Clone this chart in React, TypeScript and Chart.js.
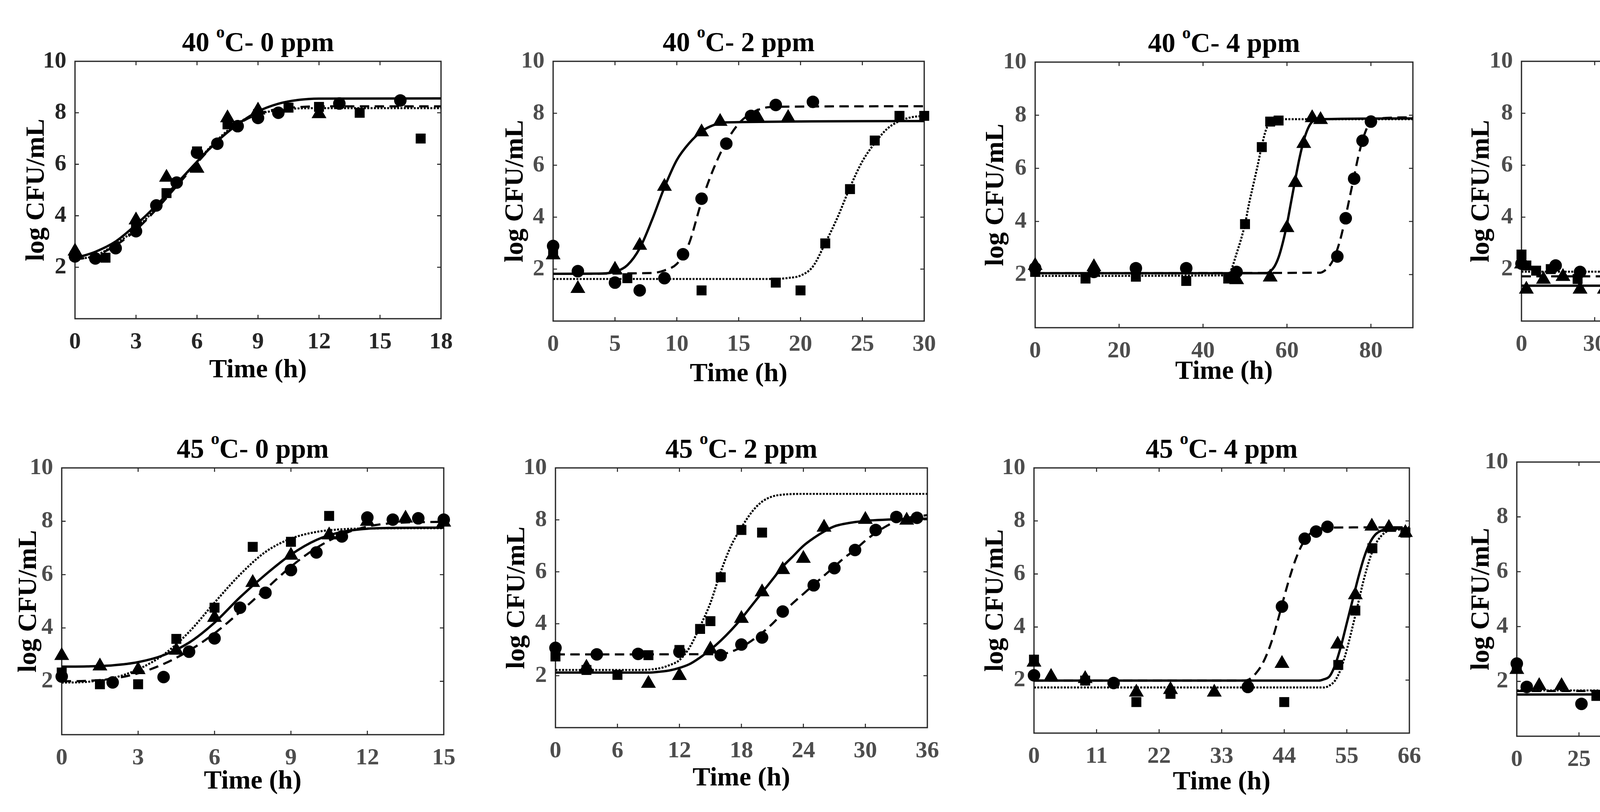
import { useEffect, useRef } from 'react';
import { Chart, registerables } from 'chart.js';

Chart.register(...registerables);

type Pt = [number, number];

const FONT = "'Liberation Serif', 'Times New Roman', Times, serif";

// ---- panel titles / axes ----
const temps = ['40', '40', '40', '40', '45', '45', '45', '45'];
const doses = ['0', '2', '4', '6.25', '0', '2', '4', '6.25'];
const xMaxes = [18, 30, 90, 150, 15, 36, 66, 150];
const xSteps = [3, 5, 20, 30, 3, 6, 11, 25];

// ---- 40 °C - 0 ppm ----
const p1Squares: Pt[] = [[0, 2.45], [1.5, 2.37], [3, 3.6], [4.5, 4.88], [6, 6.5], [7.5, 7.55], [9, 7.95], [10.5, 8.2], [12, 8.23], [14, 8.0], [17, 7.0]];
const p1Circles: Pt[] = [[0, 2.42], [1, 2.34], [2, 2.74], [3, 3.4], [4, 4.4], [5, 5.29], [6, 6.45], [7, 6.8], [8, 7.48], [9, 7.8], [10, 8.0], [13, 8.36], [16, 8.48]];
const p1Triangles: Pt[] = [[0, 2.62], [3, 3.83], [4.5, 5.49], [6, 5.84], [7.5, 7.8], [9, 8.1], [12, 7.96]];
const p1FitSq: Pt[] = [[0, 2.3], [1, 2.45], [2, 2.9], [3, 3.5], [4, 4.3], [5, 5.2], [6, 6.1], [7, 6.95], [8, 7.6], [9, 7.95], [10, 8.1], [11, 8.17], [12, 8.18], [18, 8.18]];
const p1FitCi: Pt[] = [[0, 2.3], [1, 2.45], [2, 2.85], [3, 3.45], [4, 4.25], [5, 5.15], [6, 6.05], [7, 6.9], [8, 7.55], [9, 7.95], [10, 8.15], [11, 8.22], [12, 8.25], [18, 8.25]];
const p1FitTr: Pt[] = [[0, 2.35], [1, 2.6], [2, 3.0], [3, 3.65], [4, 4.4], [5, 5.25], [6, 6.1], [7, 6.9], [8, 7.55], [9, 8.05], [10, 8.35], [11, 8.5], [12, 8.55], [18, 8.56]];

// ---- 40 °C - 2 ppm ----
const p2Squares: Pt[] = [[0, 2.7], [6, 1.65], [12, 1.18], [18, 1.48], [20, 1.18], [22, 2.99], [24, 5.08], [26, 6.95], [28, 7.9], [30, 7.9]];
const p2Circles: Pt[] = [[0, 2.89], [2, 1.92], [5, 1.48], [7, 1.18], [9, 1.65], [10.5, 2.57], [12, 4.71], [14, 6.83], [16, 7.9], [18, 8.32], [21, 8.44]];
const p2Triangles: Pt[] = [[0, 2.54], [2, 1.25], [5, 1.99], [7, 2.91], [9, 5.18], [12, 7.28], [13.5, 7.68], [16.5, 7.86], [19, 7.83]];
const p2FitSq: Pt[] = [[0, 1.62], [18, 1.62], [19, 1.66], [20, 1.75], [21, 2.1], [22, 3.0], [23, 4.0], [24, 5.15], [25, 6.15], [26, 6.85], [27, 7.4], [28, 7.7], [29, 7.85], [30, 7.9]];
const p2FitCi: Pt[] = [[0, 1.82], [8, 1.85], [9, 1.95], [10, 2.2], [10.5, 2.55], [11, 3.0], [12, 4.6], [13, 5.9], [14, 6.9], [15, 7.6], [16, 8.0], [17, 8.2], [18, 8.25], [30, 8.27]];
const p2FitTr: Pt[] = [[0, 1.82], [4, 1.83], [5, 1.9], [6, 2.15], [7, 2.8], [8, 3.9], [9, 5.15], [10, 6.2], [11, 6.85], [12, 7.3], [13, 7.55], [14, 7.65], [30, 7.7]];

// ---- 40 °C - 4 ppm ----
const p3Squares: Pt[] = [[0, 2.1], [12, 1.85], [24, 1.92], [36, 1.76], [46, 1.85], [50, 3.9], [54, 6.8], [56, 7.76], [58, 7.8]];
const p3Circles: Pt[] = [[0, 2.24], [14, 2.1], [24, 2.24], [36, 2.24], [48, 2.1], [72, 2.68], [74, 4.12], [76, 5.61], [78, 7.04], [80, 7.76]];
const p3Triangles: Pt[] = [[0, 2.34], [14, 2.29], [48, 1.8], [56, 1.9], [60, 3.76], [62, 5.46], [64, 6.93], [66, 7.9], [68, 7.83]];
const p3FitSq: Pt[] = [[0, 1.95], [46, 1.97], [47, 2.3], [48, 2.8], [49, 3.3], [50, 3.9], [51, 4.7], [52, 5.4], [53, 6.1], [54, 6.85], [55, 7.45], [56, 7.75], [58, 7.85], [90, 7.85]];
const p3FitCi: Pt[] = [[0, 2.05], [68, 2.07], [69, 2.15], [70, 2.3], [71, 2.55], [72, 2.95], [73, 3.5], [74, 4.2], [75, 4.95], [76, 5.7], [77, 6.45], [78, 7.05], [79, 7.5], [80, 7.75], [82, 7.88], [90, 7.92]];
const p3FitTr: Pt[] = [[0, 2.05], [55, 2.05], [56, 2.12], [57, 2.3], [58, 2.65], [59, 3.2], [60, 3.9], [61, 4.75], [62, 5.6], [63, 6.4], [64, 7.05], [65, 7.5], [66, 7.75], [68, 7.85], [90, 7.88]];

// ---- 40 °C - 6.25 ppm ----
const p4Squares: Pt[] = [[0, 2.56], [2, 2.14], [6, 1.94], [12, 2.0], [23, 1.62], [58, 1.89], [82, 1.52], [88, 4.69], [96, 7.98], [105, 7.23]];
const p4Circles: Pt[] = [[0, 2.21], [14, 2.14], [24, 1.89], [36, 1.65], [48, 1.15], [72, 1.15], [84, 2.61], [88, 5.9], [90, 7.23], [92, 7.83], [95, 7.96]];
const p4Triangles: Pt[] = [[0, 2.19], [2, 1.22], [9, 1.6], [17, 1.71], [24, 1.22], [34, 1.22], [51, 1.22], [69, 1.22], [100, 1.22], [125, 1.22], [128, 3.39], [130, 5.26], [132, 6.46], [135, 8.03]];
const p4FitSq: Pt[] = [[0, 1.9], [80, 1.9], [82, 2.05], [83, 2.25], [84, 2.55], [85, 3.1], [86, 3.7], [87, 4.5], [88, 5.5], [89, 6.4], [90, 7.1], [91, 7.5], [92, 7.75], [93, 7.9], [95, 7.98], [150, 8.0]];
const p4FitCi: Pt[] = [[0, 1.72], [78, 1.72], [80, 1.8], [82, 2.05], [83, 2.3], [84, 2.7], [85, 3.3], [86, 4.1], [87, 5.0], [88, 5.9], [89, 6.6], [90, 7.15], [91, 7.5], [92, 7.75], [94, 7.92], [150, 7.95]];
const p4FitTr: Pt[] = [[0, 1.36], [122, 1.36], [123, 1.42], [124, 1.55], [125, 1.8], [126, 2.3], [127, 2.9], [128, 3.6], [129, 4.5], [130, 5.4], [131, 6.3], [132, 7.0], [133, 7.55], [134, 7.9], [135, 8.03], [137, 8.07], [150, 8.07]];

// ---- 45 °C - 0 ppm ----
const p5Squares: Pt[] = [[0, 2.33], [1.5, 1.89], [3, 1.89], [4.5, 3.59], [6, 4.76], [7.5, 7.04], [9, 7.23], [10.5, 8.2]];
const p5Circles: Pt[] = [[0, 2.18], [2, 1.96], [4, 2.16], [5, 3.11], [6, 3.61], [7, 4.76], [8, 5.32], [9, 6.17], [10, 6.83], [11, 7.43], [12, 8.14], [13, 8.06], [14, 8.11], [15, 8.06]];
const p5Triangles: Pt[] = [[0, 2.96], [1.5, 2.57], [3, 2.43], [4.5, 3.16], [6, 4.39], [7.5, 5.7], [9, 6.72], [10.5, 7.48], [12, 7.99], [13.5, 8.11], [15, 7.96]];
const p5FitSq: Pt[] = [[0, 1.95], [1, 1.98], [2, 2.12], [3, 2.45], [4, 3.0], [5, 3.85], [6, 4.95], [7, 6.0], [8, 6.85], [9, 7.35], [10, 7.6], [11, 7.7], [12, 7.73], [15, 7.74]];
const p5FitCi: Pt[] = [[0, 2.0], [1, 2.02], [2, 2.1], [3, 2.3], [4, 2.65], [5, 3.15], [6, 3.8], [7, 4.6], [8, 5.45], [9, 6.3], [10, 7.0], [11, 7.5], [12, 7.8], [13, 7.93], [15, 7.98]];
const p5FitTr: Pt[] = [[0, 2.55], [1, 2.56], [2, 2.6], [3, 2.72], [4, 2.98], [5, 3.45], [6, 4.2], [7, 5.15], [8, 6.0], [9, 6.75], [10, 7.3], [11, 7.6], [12, 7.72], [13, 7.75], [15, 7.76]];

// ---- 45 °C - 2 ppm ----
const p6Squares: Pt[] = [[0, 2.74], [3, 2.22], [6, 2.03], [9, 2.79], [12, 2.99], [14, 3.8], [15, 4.1], [16, 5.79], [18, 7.61], [20, 7.51]];
const p6Circles: Pt[] = [[0, 3.07], [4, 2.82], [8, 2.84], [12, 2.92], [16, 2.79], [18, 3.2], [20, 3.47], [22, 4.47], [25, 5.48], [27, 6.14], [29, 6.84], [31, 7.61], [33, 8.11], [35, 8.08]];
const p6Triangles: Pt[] = [[3, 2.32], [9, 1.7], [12, 2.0], [15, 3.02], [18, 4.2], [20, 5.22], [22, 6.08], [24, 6.51], [26, 7.71], [30, 8.01], [34, 7.98]];
const p6FitSq: Pt[] = [[0, 2.22], [8, 2.22], [10, 2.28], [11, 2.4], [12, 2.6], [13, 3.1], [14, 3.9], [15, 4.8], [16, 6.0], [17, 7.0], [18, 7.7], [19, 8.3], [20, 8.7], [21, 8.9], [22, 8.97], [24, 9.0], [36, 9.0]];
const p6FitCi: Pt[] = [[0, 2.82], [16, 2.83], [17, 2.92], [18, 3.1], [19, 3.35], [20, 3.65], [21, 4.0], [22, 4.42], [23, 4.8], [24, 5.15], [25, 5.5], [26, 5.85], [27, 6.2], [28, 6.55], [29, 6.85], [30, 7.2], [31, 7.5], [32, 7.75], [33, 7.95], [34, 8.07], [36, 8.18]];
const p6FitTr: Pt[] = [[0, 2.12], [9, 2.12], [10, 2.15], [11, 2.2], [12, 2.3], [13, 2.45], [14, 2.7], [15, 3.0], [16, 3.35], [17, 3.75], [18, 4.2], [19, 4.7], [20, 5.2], [21, 5.7], [22, 6.2], [23, 6.6], [24, 7.0], [25, 7.3], [26, 7.55], [27, 7.75], [28, 7.85], [30, 7.96], [36, 8.05]];

// ---- 45 °C - 4 ppm ----
const p7Squares: Pt[] = [[0, 2.77], [9, 1.98], [18, 1.17], [24, 1.48], [44, 1.17], [53.5, 2.57], [56.5, 4.62], [59.5, 6.97], [65.3, 7.56]];
const p7Circles: Pt[] = [[0, 2.18], [14, 1.89], [37.6, 1.74], [43.6, 4.77], [47.6, 7.33], [49.6, 7.6], [51.6, 7.78]];
const p7Triangles: Pt[] = [[0, 2.67], [3, 2.13], [9, 2.05], [18, 1.54], [24, 1.64], [31.7, 1.54], [43.6, 2.62], [53.4, 3.35], [56.5, 5.21], [59.4, 7.8], [62.4, 7.75], [65.3, 7.56]];
const p7FitSq: Pt[] = [[0, 1.72], [51, 1.72], [52, 1.8], [53, 2.0], [54, 2.45], [55, 3.15], [56, 4.0], [57, 4.9], [58, 5.8], [59, 6.55], [60, 7.1], [61, 7.42], [62, 7.6], [63, 7.66], [66, 7.68]];
const p7FitCi: Pt[] = [[0, 1.98], [37, 1.98], [38, 2.05], [39, 2.25], [40, 2.55], [41, 3.0], [42, 3.6], [43, 4.35], [44, 5.15], [45, 5.9], [46, 6.55], [47, 7.05], [48, 7.4], [49, 7.6], [50, 7.7], [52, 7.75], [66, 7.76]];
const p7FitTr: Pt[] = [[0, 1.98], [50, 1.98], [51, 2.03], [52, 2.15], [53, 2.6], [54, 3.3], [55, 4.15], [56, 5.0], [57, 5.85], [58, 6.6], [59, 7.15], [60, 7.48], [61, 7.63], [62, 7.7], [66, 7.72]];

// ---- 45 °C - 6.25 ppm ----
const p8Squares: Pt[] = [[0, 2.55], [32, 1.47], [44, 1.68], [76, 1.42], [115, 2.76], [119, 4.54], [124, 6.98], [127, 7.25], [129, 7.77]];
const p8Circles: Pt[] = [[0, 2.65], [4, 1.8], [26, 1.18], [46, 1.18], [76, 1.18], [80, 4.79], [84, 6.92], [86, 7.84], [88, 7.91]];
const p8Triangles: Pt[] = [[0, 2.43], [9, 1.84], [18, 1.84], [44, 1.23], [76, 1.23], [99, 1.23], [102, 3.47], [105, 4.7], [108, 5.17], [111, 6.0], [115.5, 6.57], [118, 7.88], [121, 8.05]];
const p8FitSq: Pt[] = [[0, 1.67], [109, 1.68], [110, 1.72], [111, 1.8], [112, 1.95], [113, 2.2], [114, 2.5], [115, 2.85], [116, 3.2], [117, 3.6], [118, 4.05], [119, 4.5], [120, 5.0], [121, 5.5], [122, 6.0], [123, 6.45], [124, 6.85], [125, 7.15], [126, 7.4], [127, 7.55], [129, 7.65], [150, 7.68]];
const p8FitCi: Pt[] = [[0, 1.65], [71, 1.66], [72, 1.75], [73, 1.9], [74, 2.15], [75, 2.5], [76, 2.85], [77, 3.2], [78, 3.7], [79, 4.3], [80, 5.0], [81, 5.6], [82, 6.2], [83, 6.75], [84, 7.15], [85, 7.45], [86, 7.7], [88, 7.9], [92, 7.98], [150, 8.0]];
const p8FitTr: Pt[] = [[0, 1.52], [78, 1.53], [80, 1.6], [82, 1.85], [84, 2.2], [86, 2.7], [88, 3.3], [90, 4.0], [92, 4.9], [94, 5.8], [96, 6.6], [98, 7.15], [100, 7.5], [102, 7.7], [104, 7.82], [106, 7.9], [110, 7.95], [150, 7.97]];

const seriesByPanel = [
  [p1Squares, p1Circles, p1Triangles, p1FitSq, p1FitCi, p1FitTr],
  [p2Squares, p2Circles, p2Triangles, p2FitSq, p2FitCi, p2FitTr],
  [p3Squares, p3Circles, p3Triangles, p3FitSq, p3FitCi, p3FitTr],
  [p4Squares, p4Circles, p4Triangles, p4FitSq, p4FitCi, p4FitTr],
  [p5Squares, p5Circles, p5Triangles, p5FitSq, p5FitCi, p5FitTr],
  [p6Squares, p6Circles, p6Triangles, p6FitSq, p6FitCi, p6FitTr],
  [p7Squares, p7Circles, p7Triangles, p7FitSq, p7FitCi, p7FitTr],
  [p8Squares, p8Circles, p8Triangles, p8FitSq, p8FitCi, p8FitTr],
];

// plot boxes on the page (l, t, r, b), x-title and y-title offsets from the axes
interface Box { l: number; t: number; r: number; b: number; xt: number; yt: number }
const boxes: Box[] = [
  { l: 192, t: 157, r: 1129, b: 816, xt: 132, yt: 97 },
  { l: 1416, t: 157, r: 2366, b: 822, xt: 136, yt: 95 },
  { l: 2650, t: 159, r: 3617, b: 839, xt: 113, yt: 99 },
  { l: 3895, t: 157, r: 4841, b: 822, xt: 122, yt: 101 },
  { l: 158, t: 1198, r: 1136, b: 1881, xt: 120, yt: 83 },
  { l: 1422, t: 1198, r: 2374, b: 1863, xt: 130, yt: 97 },
  { l: 2647, t: 1198, r: 3608, b: 1877, xt: 126, yt: 97 },
  { l: 3883, t: 1183, r: 4847, b: 1885, xt: 120, yt: 89 },
];

const LW = 194;      // width reserved for the y axis
const PAD_TOP = 60;
const PAD_RIGHT = 60;
const TICK = 10;

const toXY = (pts: Pt[]) => pts.map(([x, y]) => ({ x, y }));

// MATLAB-like box with inward ticks on all four sides
const framePlugin = {
  id: 'matlabFrame',
  beforeDatasetsDraw(chart: Chart) {
    const { ctx, chartArea: a, scales } = chart;
    const xs = scales['x'];
    const ys = scales['y'];
    ctx.save();
    ctx.strokeStyle = '#262626';
    ctx.lineWidth = 3.2;
    ctx.strokeRect(a.left, a.top, a.right - a.left, a.bottom - a.top);
    ctx.lineWidth = 2.6;
    ctx.beginPath();
    xs.ticks.forEach((t) => {
      const px = xs.getPixelForValue(t.value);
      if (px <= a.left + 1 || px >= a.right - 1) return;
      ctx.moveTo(px, a.bottom);
      ctx.lineTo(px, a.bottom - TICK);
      ctx.moveTo(px, a.top);
      ctx.lineTo(px, a.top + TICK);
    });
    ys.ticks.forEach((t) => {
      const py = ys.getPixelForValue(t.value);
      if (py <= a.top + 1 || py >= a.bottom - 1) return;
      ctx.moveTo(a.left, py);
      ctx.lineTo(a.left + TICK, py);
      ctx.moveTo(a.right, py);
      ctx.lineTo(a.right - TICK, py);
    });
    ctx.stroke();
    ctx.restore();
  },
};

function Panel({ idx }: { idx: number }) {
  const canvasRef = useRef<HTMLCanvasElement>(null);
  const box = boxes[idx];
  const width = LW + (box.r - box.l) + PAD_RIGHT;
  const height = PAD_TOP + (box.b - box.t) + box.xt + 50;
  const tickColor = idx === 0 ? '#262626' : '#4d4d4d';

  useEffect(() => {
    if (!canvasRef.current) return;
    const [sq, ci, tr, fSq, fCi, fTr] = seriesByPanel[idx];
    const marker = (data: Pt[], style: string, r: number) => ({
      data: toXY(data),
      pointStyle: style,
      pointRadius: r,
      pointBackgroundColor: '#000',
      pointBorderColor: '#000',
      pointBorderWidth: 0,
      showLine: false,
      clip: false,
      order: 0,
    });
    const fit = (data: Pt[], dash: number[], w: number) => ({
      data: toXY(data),
      showLine: true,
      pointRadius: 0,
      borderColor: '#000',
      borderWidth: w,
      borderDash: dash,
      borderCapStyle: 'butt',
      cubicInterpolationMode: 'monotone',
      fill: false,
      order: 1,
    });
    const chart = new Chart(canvasRef.current, {
      type: 'scatter',
      data: {
        datasets: [
          marker(sq, 'rect', 18),
          marker(ci, 'circle', 16),
          marker(tr, 'triangle', 22),
          fit(fSq, [5, 3.5], 5.2),
          fit(fCi, [24, 14], 5.5),
          fit(fTr, [], 6),
        ] as any,
      },
      options: {
        animation: false,
        responsive: false,
        devicePixelRatio: 1,
        layout: { padding: { top: PAD_TOP, right: PAD_RIGHT, left: 0, bottom: 0 } },
        plugins: { legend: { display: false }, tooltip: { enabled: false } },
        scales: {
          x: {
            type: 'linear',
            min: 0,
            max: xMaxes[idx],
            afterFit: (s: any) => { s.height = box.xt + 50; },
            grid: { display: false, drawTicks: false },
            border: { display: false },
            ticks: {
              stepSize: xSteps[idx],
              includeBounds: false,
              autoSkip: false,
              maxRotation: 0,
              padding: 24,
              color: tickColor,
              font: { family: FONT, size: 60, weight: 'bold' },
            },
            title: {
              display: true,
              text: 'Time (h)',
              color: '#000',
              font: { family: FONT, size: 68, weight: 'bold' },
              padding: { top: 0, bottom: 9 },
            },
          },
          y: {
            type: 'linear',
            min: 0,
            max: 10,
            afterFit: (s: any) => { s.width = LW; },
            grid: { display: false, drawTicks: false },
            border: { display: false },
            ticks: {
              stepSize: 2,
              padding: 22,
              color: tickColor,
              font: { family: FONT, size: 60, weight: 'bold' },
              callback: (v: any) => (Number(v) === 0 ? '' : String(v)),
            },
            title: {
              display: true,
              text: 'log CFU/mL',
              color: '#000',
              font: { family: FONT, size: 68, weight: 'bold' },
              padding: { top: LW - box.yt - 41, bottom: 0 },
            },
          },
        },
      },
      plugins: [framePlugin],
    });
    return () => { chart.destroy(); };
  }, [idx]);

  return (
    <>
      <div
        style={{
          position: 'absolute',
          left: box.l,
          width: box.r - box.l,
          top: box.t - 25 - 59,
          textAlign: 'center',
          fontFamily: FONT,
          fontWeight: 'bold',
          fontSize: 70,
          lineHeight: '70px',
          whiteSpace: 'nowrap',
          color: '#000',
        }}
      >
        {temps[idx]} <sup style={{ fontSize: '0.62em', verticalAlign: '0.8em', lineHeight: 0 }}>o</sup>C- {doses[idx]} ppm
      </div>
      <canvas
        ref={canvasRef}
        width={width}
        height={height}
        style={{
          position: 'absolute',
          left: box.l - LW,
          top: box.t - PAD_TOP,
          width,
          height,
        }}
      />
    </>
  );
}

export default function App() {
  return (
    <div
      style={{
        position: 'fixed',
        left: 0,
        top: 0,
        width: 4939,
        height: 2079,
        overflow: 'hidden',
        background: '#fff',
      }}
    >
      {boxes.map((_, i) => <Panel key={i} idx={i} />)}
    </div>
  );
}
